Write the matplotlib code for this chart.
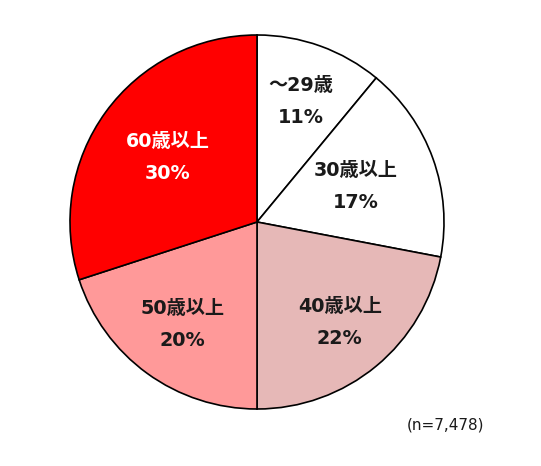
import matplotlib
matplotlib.use("Agg")
import matplotlib.pyplot as plt
import numpy as np

plt.rcParams['font.family'] = ['DejaVu Sans', 'Noto Sans CJK JP']

categories = ["～29歳", "30歳以上", "40歳以上", "50歳以上", "60歳以上"]
values = [11, 17, 22, 20, 30]
colors = ["#FFFFFF", "#FFFFFF", "#E6B8B7", "#FF9999", "#FF0000"]
text_colors = ["#1a1a1a", "#1a1a1a", "#1a1a1a", "#1a1a1a", "#FFFFFF"]
label_radius = [0.685, 0.56, 0.695, 0.68, 0.59]
note = "(n=7,478)"

fig = plt.figure(figsize=(5.41, 4.66), dpi=100)
ax = fig.add_axes([70/541, 57/466, 374/541, 374/466])
wedges, _ = ax.pie(values, colors=colors, startangle=90, counterclock=False,
                   radius=1.0, wedgeprops=dict(edgecolor="black", linewidth=1.2))
ax.set_xlim(-1, 1)
ax.set_ylim(-1, 1)
ax.set_aspect('equal')
ax.axis('off')

for w, cat, val, tc, r in zip(wedges, categories, values, text_colors, label_radius):
    ang = np.deg2rad((w.theta1 + w.theta2) / 2)
    x, y = r * np.cos(ang), r * np.sin(ang)
    ax.text(x, y + 0.085, cat, ha='center', va='center', fontsize=13.8,
            fontweight='bold', color=tc)
    ax.text(x, y - 0.085, f"{val}%", ha='center', va='center', fontsize=13.8,
            fontweight='bold', color=tc)

fig.text(446/541, 1 - 425/466, note, ha='center', va='center', fontsize=11,
         color="#1a1a1a")

fig.savefig("out.png", dpi=100)
